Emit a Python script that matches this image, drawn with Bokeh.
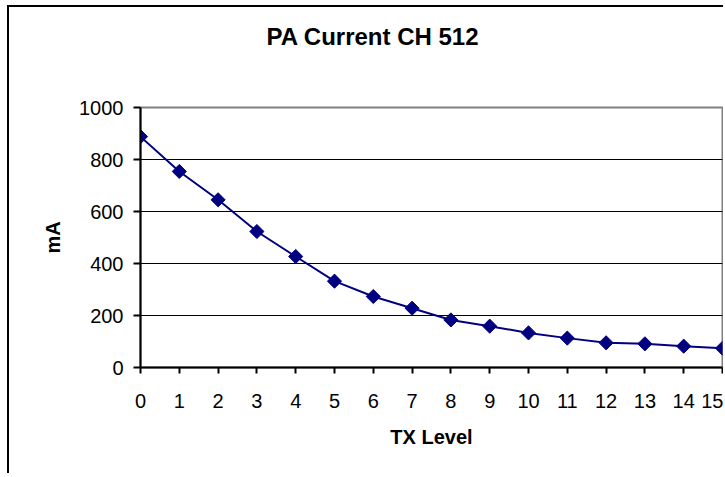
import numpy as np
from bokeh.plotting import figure
from bokeh.models import Range1d, FixedTicker, Title
from bokeh.embed import file_html
from bokeh.resources import INLINE

tx_level = list(range(16))
pa_current_ma = [888, 754, 645, 523, 427, 332, 273, 228, 183, 159, 133, 113, 95, 91, 82, 74]
y_ticks = [0, 200, 400, 600, 800, 1000]
grid_ticks = [200, 400, 600, 800]

FONT = "Liberation Sans"
NAVY = "#000080"

p = figure(width=716, height=468, output_backend="svg", toolbar_location=None, title=None,
           x_range=Range1d(0, 15), y_range=Range1d(0, 1000),
           min_border_left=131, min_border_right=3, min_border_top=100, min_border_bottom=108)
p.styles = {"border-left": "2px solid black", "border-top": "2px solid black",
            "margin-left": "7px", "margin-top": "5px"}

# spacer between title and plot area
p.add_layout(Title(text=" ", text_font_size="1px", standoff=55), "above")
p.add_layout(Title(text="PA Current CH 512", align="left", offset=126, standoff=0,
                   text_font=FONT, text_font_size="24px", text_font_style="bold",
                   text_color="black"), "above")

p.line(tx_level, pa_current_ma, line_color=NAVY, line_width=2)
p.scatter(tx_level, pa_current_ma, marker="square", angle=np.pi / 4, size=10,
          fill_color=NAVY, line_color=NAVY)

p.outline_line_color = "#808080"
p.outline_line_width = 2
p.background_fill_color = "white"
p.border_fill_color = "white"

p.xgrid.grid_line_color = None
p.ygrid.ticker = FixedTicker(ticks=grid_ticks)
p.ygrid.grid_line_color = "black"
p.ygrid.grid_line_width = 1

p.xaxis.ticker = FixedTicker(ticks=tx_level)
p.yaxis.ticker = FixedTicker(ticks=y_ticks)
for ax in (p.xaxis[0], p.yaxis[0]):
    ax.axis_line_color = "black"
    ax.axis_line_width = 2
    ax.major_tick_line_color = "black"
    ax.major_tick_line_width = 2
    ax.major_tick_in = 0
    ax.minor_tick_line_color = None
    ax.major_label_text_font = FONT
    ax.major_label_text_font_size = "20px"
    ax.major_label_text_color = "black"
    ax.axis_label_text_font = FONT
    ax.axis_label_text_font_size = "20px"
    ax.axis_label_text_font_style = "bold"
    ax.axis_label_text_color = "black"

p.xaxis.major_tick_out = 6
p.yaxis.major_tick_out = 7
p.xaxis.major_label_standoff = 20
p.yaxis.major_label_standoff = 10
p.xaxis.axis_label = "TX Level"
p.yaxis.axis_label = "mA"
p.xaxis.axis_label_standoff = 15
p.yaxis.axis_label_standoff = 12

open("out.html", "w").write(file_html(p, INLINE))
